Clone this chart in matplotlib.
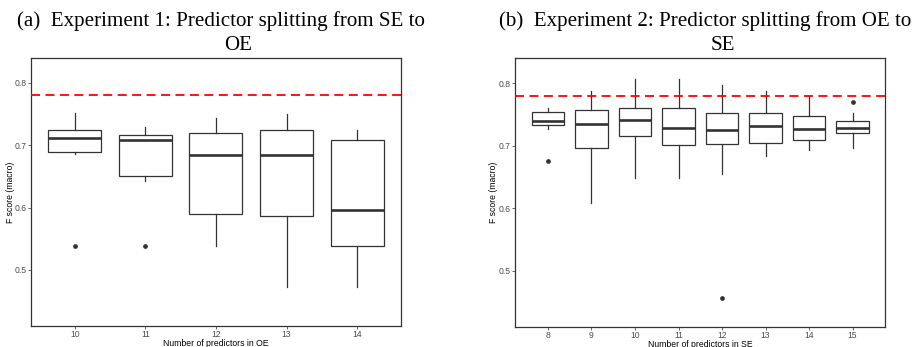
import matplotlib.pyplot as plt

# Experiment 1: number of predictors in OE
exp1_labels = ['10', '11', '12', '13', '14']
exp1_whislo = [0.686, 0.642, 0.538, 0.473, 0.473]
exp1_q1 = [0.689, 0.650, 0.590, 0.587, 0.538]
exp1_med = [0.711, 0.709, 0.684, 0.685, 0.596]
exp1_q3 = [0.724, 0.716, 0.719, 0.724, 0.708]
exp1_whishi = [0.752, 0.730, 0.744, 0.750, 0.724]
exp1_fliers = [[0.538], [0.538], [], [], []]

# Experiment 2: number of predictors in SE
exp2_labels = ['8', '9', '10', '11', '12', '13', '14', '15']
exp2_whislo = [0.727, 0.608, 0.648, 0.648, 0.655, 0.683, 0.693, 0.697]
exp2_q1 = [0.734, 0.697, 0.715, 0.702, 0.703, 0.705, 0.709, 0.720]
exp2_med = [0.740, 0.735, 0.742, 0.729, 0.726, 0.731, 0.727, 0.728]
exp2_q3 = [0.754, 0.758, 0.761, 0.761, 0.752, 0.752, 0.747, 0.739]
exp2_whishi = [0.761, 0.788, 0.807, 0.807, 0.797, 0.788, 0.779, 0.752]
exp2_fliers = [[0.676], [], [], [], [0.457], [], [], [0.770]]

baseline = 0.78

dark = '#333333'
grey = '#4d4d4d'


def make_stats(labels, lo, q1, med, q3, hi, fl):
    stats = []
    for i in range(len(labels)):
        stats.append(dict(label=labels[i], whislo=lo[i], q1=q1[i], med=med[i],
                          q3=q3[i], whishi=hi[i], fliers=fl[i]))
    return stats


def draw_panel(ax, stats, xlabel, pad, ylab_x):
    n = len(stats)
    ax.bxp(stats, positions=range(1, n + 1), widths=0.75, showcaps=False,
           patch_artist=True,
           boxprops=dict(facecolor='white', edgecolor=dark, linewidth=0.9),
           medianprops=dict(color=dark, linewidth=1.9),
           whiskerprops=dict(color=dark, linewidth=0.9),
           flierprops=dict(marker='o', markerfacecolor=dark, markeredgecolor=dark,
                           markersize=2.4))
    ax.axhline(baseline, color='red', linestyle=(0, (5, 3)), linewidth=1.3, zorder=5)
    ax.set_xlim(1 - pad, n + pad)
    ax.set_ylim(0.41, 0.84)
    ax.set_yticks([0.5, 0.6, 0.7, 0.8])
    ax.set_yticklabels(['0.5', '0.6', '0.7', '0.8'])
    ax.set_xlabel(xlabel, fontsize=6.2, color='black')
    ax.set_ylabel('F score (macro)', fontsize=6.2, color='black')
    ax.xaxis.set_label_coords(0.5, -0.047)
    ax.yaxis.set_label_coords(ylab_x, 0.5)
    ax.tick_params(labelsize=6.2, labelcolor=grey, color=grey, length=2, width=0.6, pad=1)
    for s in ax.spines.values():
        s.set_color(dark)
        s.set_linewidth(0.9)


plt.rcParams['font.family'] = ['Liberation Sans', 'DejaVu Sans']

fig = plt.figure(figsize=(9.19, 3.47), dpi=100)
ax1 = fig.add_axes([0.0337, 0.0605, 0.4026, 0.7724])
ax2 = fig.add_axes([0.5607, 0.0576, 0.4026, 0.7744])

draw_panel(ax1, make_stats(exp1_labels, exp1_whislo, exp1_q1, exp1_med, exp1_q3,
                           exp1_whishi, exp1_fliers), 'Number of predictors in OE', 0.62, -0.043)
draw_panel(ax2, make_stats(exp2_labels, exp2_whislo, exp2_q1, exp2_med, exp2_q3,
                           exp2_whishi, exp2_fliers), 'Number of predictors in SE', 0.75, -0.046)

tfont = dict(family='Liberation Serif', fontsize=15.1, color='black', ha='center',
             va='baseline')
fig.text(221 / 919, 1 - 26 / 347, '(a)  Experiment 1: Predictor splitting from SE to', **tfont)
fig.text(238.5 / 919, 1 - 49.5 / 347, 'OE', **tfont)
fig.text(705.5 / 919, 1 - 26 / 347, '(b)  Experiment 2: Predictor splitting from OE to', **tfont)
fig.text(723 / 919, 1 - 49.5 / 347, 'SE', **tfont)

fig.savefig('out.png', dpi=100)
